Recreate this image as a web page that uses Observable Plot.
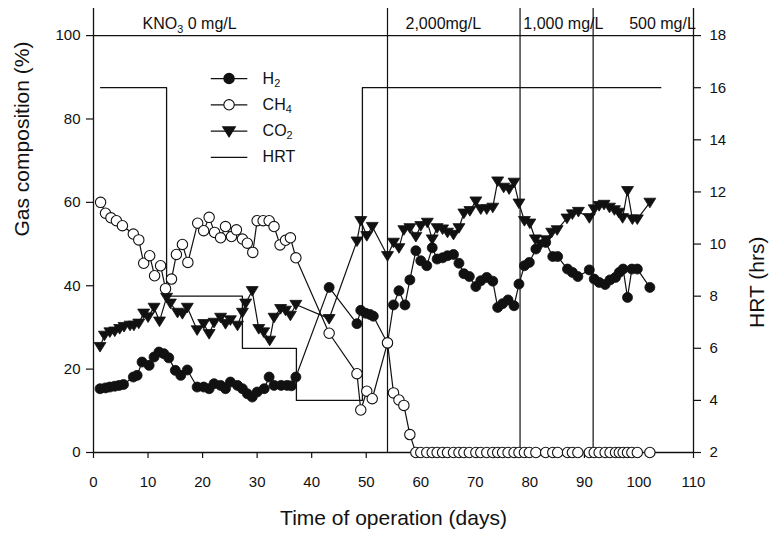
<!DOCTYPE html>
<html>
<head>
<meta charset="utf-8">
<script src="https://cdn.jsdelivr.net/npm/d3@7"></script>
<script src="https://cdn.jsdelivr.net/npm/@observablehq/plot@0.6"></script>
<style>
  html, body { margin: 0; padding: 0; background: #fff; }
  #chart svg { display: block; }
</style>
</head>
<body>
<div id="chart"></div>
<script>
// ---------- data ----------
const h2Days = [1.2,2.2,3.0,3.9,4.7,5.5,7.3,8.0,8.9,10.2,11.1,12.0,12.9,13.8,15.0,16.0,17.2,19.0,20.2,21.2,22.1,23.3,24.2,25.1,26.4,27.3,28.2,29.1,30.0,31.3,32.2,33.1,34.4,35.5,36.3,37.1,43.2,48.3,49.0,49.9,50.7,51.3,53.9,55.0,56.0,57.1,58.0,59.1,60.0,61.1,62.1,63.0,64.0,64.9,66.0,67.0,67.9,68.9,70.1,71.0,72.1,73.2,74.1,75.0,76.0,77.1,78.0,79.0,79.9,81.1,82.9,84.2,85.1,86.9,87.8,88.8,90.9,91.8,92.7,93.8,94.7,95.7,96.4,97.1,97.9,98.7,99.7,102.0];
const h2Values = [15.3,15.5,15.7,15.9,16.1,16.3,18.1,18.5,21.7,20.9,22.9,24.1,23.7,22.7,19.7,18.5,19.8,15.7,15.7,15.3,16.5,16.1,15.3,16.9,16.1,15.3,14.1,13.3,14.5,15.3,18.1,16.1,16.1,16.1,16.0,18.1,39.6,30.9,34.1,33.4,33.1,32.7,26.2,35.4,38.8,35.4,41.4,48.4,46.0,44.8,49.1,46.4,46.7,47.2,47.5,45.4,42.9,42.2,39.8,41.2,42.0,41.1,34.8,35.7,36.6,35.2,40.4,44.8,45.6,48.8,50.4,47.0,47.0,44.0,43.2,42.2,43.8,41.6,40.8,40.3,41.4,42.0,43.2,44.0,37.2,44.0,44.0,39.6];

const ch4Days = [1.3,2.2,3.2,4.2,5.3,7.3,8.3,9.2,10.3,11.2,12.3,13.2,14.3,15.2,16.3,17.3,19.1,20.2,21.2,22.2,23.3,24.2,25.3,26.2,27.3,28.2,29.2,30.0,31.1,32.2,33.1,34.2,35.2,36.1,37.1,43.2,48.3,49.0,50.1,51.1,53.9,55.0,56.0,56.9,58.0,59.1,60.0,61.1,62.1,63.0,64.0,64.9,66.0,67.0,67.9,68.9,70.1,71.0,72.1,73.2,74.1,75.0,76.0,77.1,78.0,79.0,79.9,81.1,82.9,84.2,85.1,86.9,87.8,88.8,90.9,91.8,92.7,93.8,94.7,95.7,96.4,97.1,97.9,98.7,99.7,102.0];
const ch4Values = [60.0,57.4,56.3,55.6,54.4,52.4,51.0,45.4,47.2,42.4,44.8,39.3,41.6,47.5,49.9,45.6,55.0,53.2,56.4,52.8,51.5,54.2,51.8,53.4,51.2,50.2,48.0,55.6,55.6,55.6,54.2,49.8,50.9,51.5,46.7,28.6,18.9,10.2,14.7,12.9,26.3,14.3,12.6,11.3,4.3,0,0,0,0,0,0,0,0,0,0,0,0,0,0,0,0,0,0,0,0,0,0,0,0,0,0,0,0,0,0,0,0,0,0,0,0,0,0,0,0,0];

const co2Days = [1.2,2.0,3.0,3.9,4.8,5.6,6.7,7.4,8.3,9.2,10.0,11.1,12.1,13.4,14.1,15.4,16.3,17.2,19.0,20.2,21.2,22.1,23.3,24.2,25.1,26.4,27.3,27.9,29.1,30.3,31.2,32.3,33.1,34.3,35.2,36.1,37.1,43.2,48.3,49.0,50.1,51.1,53.9,55.0,56.0,56.9,58.0,59.1,60.0,61.2,62.1,63.0,64.0,64.9,66.0,67.0,67.9,69.0,70.1,71.0,72.1,73.2,74.1,75.2,76.2,77.1,78.0,79.0,80.0,81.0,82.0,83.0,84.0,85.0,86.8,87.8,88.9,90.9,91.8,92.7,93.6,94.6,95.5,96.3,97.0,97.9,98.8,99.7,102.0];
const co2Values = [25.4,28.1,28.9,29.1,29.7,30.2,30.5,30.5,31.0,33.4,32.5,34.8,31.5,37.2,35.8,33.6,33.3,34.8,29.4,30.9,28.5,31.2,32.4,30.9,31.8,30.5,33.6,35.8,38.8,29.7,28.9,26.9,32.4,34.5,34.1,32.9,35.5,32.1,50.7,55.6,52.0,54.2,47.2,50.4,49.1,53.4,53.9,51.8,54.4,55.2,51.2,53.9,53.6,52.8,52.3,53.9,57.4,58.0,60.3,58.4,58.4,58.8,65.1,63.6,63.2,64.8,59.8,55.6,55.0,51.2,50.0,51.0,52.8,53.4,56.2,57.2,57.8,56.3,58.4,59.2,59.5,58.8,58.2,57.6,56.3,62.8,56.0,56.0,60.0];

// HRT (hrs): step changes, each value held until the next change day
const hrtDays = [1.3,13.4,27.3,37.2,49.3,104.0];
const hrtValues = [16,8,6,4,16,16];

// KNO3 dosing periods
const periodStartDays = [53.9,78.2,91.6];
const periodLabels = ["KNO\u2083 0 mg/L","2,000mg/L","1,000 mg/L","500 mg/L"];
const periodLabelDays = [9.0,57.2,78.8,98.2];

const xTicks = [0,10,20,30,40,50,60,70,80,90,100,110];
const leftTicks = [0,20,40,60,80,100];
const rightTicks = [2,4,6,8,10,12,14,16,18];

const legendNames = ["H\u2082","CH\u2084","CO\u2082","HRT"];

// ---------- helpers ----------
// right axis HRT 2..18 h shares the frame with 0..100 %
const hrtToPct = h => (h - 2) * 100 / 16;
const pctToHrt = p => Math.round(p * 16 / 100 + 2);

const zip = (xs, ys) => xs.map((x, i) => ({x, y: ys[i]}));
const h2 = zip(h2Days, h2Values);
const ch4 = zip(ch4Days, ch4Values);
const co2 = zip(co2Days, co2Values);
const hrt = zip(hrtDays, hrtValues.map(hrtToPct));
const labels = periodLabels.map((t, i) => ({t, x: periodLabelDays[i]}));

const triangleDown = {
  draw(ctx, size) {
    const r = Math.sqrt(size / Math.PI);
    ctx.moveTo(-1.15 * r, -0.8 * r);
    ctx.lineTo(1.15 * r, -0.8 * r);
    ctx.lineTo(0, 1.05 * r);
    ctx.closePath();
  }
};

// legend layout (in frame units)
const legX1 = 21.5, legX2 = 28.2, legTextX = 31.0, legTop = 89.7, legStep = 6.3;
const legend = legendNames.map((name, i) => ({name, i, y: legTop - i * legStep}));

const ink = "#111";
const yTop = 106.5;

const chart = Plot.plot({
  width: 771,
  height: 533,
  marginLeft: 93,
  marginRight: 78,
  marginTop: 8,
  marginBottom: 81,
  x: {domain: [0, 110]},
  y: {domain: [0, yTop]},
  style: {fontFamily: "Arial, 'Liberation Sans', Helvetica, sans-serif", fontSize: "15px", color: ink, background: "#fff"},
  marks: [
    // frame lines
    Plot.ruleX([0, 110], {y1: 0, y2: yTop, stroke: ink, strokeWidth: 1.3}),
    Plot.ruleX(periodStartDays, {y1: 0, y2: yTop, stroke: ink, strokeWidth: 1.2}),
    Plot.ruleY([0, 100], {x1: 0, x2: 110, stroke: ink, strokeWidth: 1.3}),
    // axes
    Plot.axisX(xTicks, {tickSize: 6, tickPadding: 18, label: null, strokeWidth: 1.2}),
    Plot.axisY(leftTicks, {anchor: "left", tickSize: 7, tickPadding: 6, label: null, strokeWidth: 1.2}),
    Plot.axisY(rightTicks.map(hrtToPct), {anchor: "right", tickSize: 7, tickPadding: 9, label: null, strokeWidth: 1.2, tickFormat: pctToHrt}),
    // axis titles
    Plot.text(["Time of operation (days)"], {frameAnchor: "bottom", dy: 66, fontSize: 21, lineAnchor: "middle"}),
    Plot.text(["Gas composition (%)"], {frameAnchor: "left", dx: -71, dy: 6, rotate: -90, fontSize: 21, lineAnchor: "middle"}),
    Plot.text(["HRT (hrs)"], {frameAnchor: "right", dx: 64, dy: 6, rotate: -90, fontSize: 21, lineAnchor: "middle"}),
    // period labels
    Plot.text(labels, {x: "x", y: 102.7, text: "t", textAnchor: "start", fontSize: 16, lineAnchor: "middle"}),
    // HRT step line
    Plot.line(hrt, {x: "x", y: "y", curve: "step-after", stroke: ink, strokeWidth: 1.3}),
    // series lines
    Plot.line(h2, {x: "x", y: "y", stroke: ink, strokeWidth: 1.2}),
    Plot.line(ch4, {x: "x", y: "y", stroke: ink, strokeWidth: 1.2}),
    Plot.line(co2, {x: "x", y: "y", stroke: ink, strokeWidth: 1.2}),
    // markers
    Plot.dot(co2, {x: "x", y: "y", r: 5.2, symbol: triangleDown, fill: ink, stroke: ink, strokeWidth: 0.8}),
    Plot.dot(h2, {x: "x", y: "y", r: 5, fill: ink, stroke: ink, strokeWidth: 0.8}),
    Plot.dot(ch4, {x: "x", y: "y", r: 5.2, fill: "#fff", stroke: ink, strokeWidth: 1.1}),
    // legend
    Plot.link(legend, {x1: legX1, x2: legX2, y1: "y", y2: "y", stroke: ink, strokeWidth: 1.3}),
    Plot.dot(legend.filter(d => d.i === 0), {x: (legX1 + legX2) / 2, y: "y", r: 5, fill: ink, stroke: ink}),
    Plot.dot(legend.filter(d => d.i === 1), {x: (legX1 + legX2) / 2, y: "y", r: 5.2, fill: "#fff", stroke: ink, strokeWidth: 1.1}),
    Plot.dot(legend.filter(d => d.i === 2), {x: (legX1 + legX2) / 2, y: "y", r: 5.2, symbol: triangleDown, fill: ink, stroke: ink}),
    Plot.text(legend, {x: legTextX, y: "y", text: "name", textAnchor: "start", fontSize: 16, lineAnchor: "middle"})
  ]
});

// render unicode subscript digits as true lowered subscripts (text stays text)
const SUB = {"\u2080":"0","\u2081":"1","\u2082":"2","\u2083":"3","\u2084":"4","\u2085":"5","\u2086":"6","\u2087":"7","\u2088":"8","\u2089":"9"};
const NS = "http://www.w3.org/2000/svg";
chart.querySelectorAll("text").forEach(el => {
  if (el.children.length) return;
  const s = el.textContent;
  if (![...s].some(c => SUB[c])) return;
  el.textContent = "";
  let buf = "", inSub = false;
  const flush = () => {
    if (!buf) return;
    const t = document.createElementNS(NS, "tspan");
    t.textContent = buf;
    if (inSub) { t.setAttribute("dy", "0.3em"); t.setAttribute("font-size", "0.68em"); }
    else if (el.childNodes.length) { t.setAttribute("dy", "-0.204em"); }
    el.appendChild(t);
    buf = "";
  };
  for (const c of s) {
    const sub = !!SUB[c];
    if (sub !== inSub) { flush(); inSub = sub; }
    buf += sub ? SUB[c] : c;
  }
  flush();
});

document.getElementById("chart").appendChild(chart);
</script>
</body>
</html>
